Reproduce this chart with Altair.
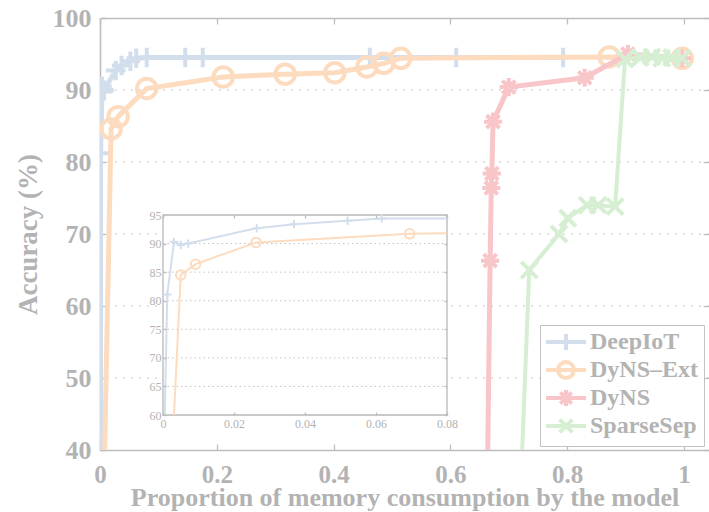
import altair as alt
import pandas as pd

# ---------------- data ----------------
SERIES = ["DeepIoT", "DyNS–Ext", "DyNS", "SparseSep"]
COLORS = ["#d3deed", "#fddbbf", "#f8c5c9", "#d6efd3"]

deepiot_x = [0.0008, 0.0010, 0.0035, 0.005, 0.007, 0.027, 0.037, 0.052, 0.062, 0.080, 0.146, 0.176, 0.462, 0.610, 0.793]
deepiot_y = [40.0, 81.2, 90.5, 89.8, 90.0, 92.7, 93.4, 94.0, 94.4, 94.5, 94.5, 94.5, 94.5, 94.5, 94.5]

dynsext_x = [0.008, 0.019, 0.031, 0.080, 0.211, 0.317, 0.402, 0.457, 0.486, 0.515, 0.872, 0.997]
dynsext_y = [40.0, 84.6, 86.3, 90.2, 91.8, 92.2, 92.4, 93.2, 93.7, 94.4, 94.6, 94.4]

dyns_x = [0.664, 0.668, 0.670, 0.671, 0.673, 0.700, 0.830, 0.904, 0.997]
dyns_y = [40.0, 66.3, 76.4, 78.4, 85.6, 90.4, 91.7, 95.0, 94.4]

sparsesep_x = [0.723, 0.735, 0.786, 0.801, 0.834, 0.853, 0.882, 0.899, 0.925, 0.945, 0.962, 0.979, 0.997]
sparsesep_y = [40.0, 65.0, 70.0, 72.2, 74.0, 74.0, 73.8, 94.3, 94.5, 94.6, 94.4, 94.5, 94.4]

# inset (zoom on 0 .. 0.08)
inset_deepiot_x = [0.0005, 0.0012, 0.0031, 0.0050, 0.0071, 0.0264, 0.0369, 0.0520, 0.0616, 0.0800]
inset_deepiot_y = [60.0, 81.1, 90.3, 89.75, 90.0, 92.7, 93.4, 94.0, 94.4, 94.4]
inset_dynsext_x = [0.0031, 0.0050, 0.0092, 0.0262, 0.0695, 0.0800]
inset_dynsext_y = [60.0, 84.5, 86.4, 90.2, 91.7, 91.8]

main_x_ticks = [0, 0.2, 0.4, 0.6, 0.8, 1]
main_y_ticks = [40, 50, 60, 70, 80, 90, 100]
main_grid = [50, 60, 70, 80, 90]
inset_x_ticks = [0, 0.02, 0.04, 0.06, 0.08]
inset_y_ticks = [60, 65, 70, 75, 80, 85, 90, 95]
inset_grid = [65, 70, 75, 80, 85, 90]

# ---------------- styling ----------------
FONT = "Liberation Serif"
TEXT = "#b3b3b3"
AXIS = "#bdbdbd"
GRID = "#c4c4c4"
W, H = 609, 432
X_MAX = 1.0428
INSET_XR = [63, 347]
INSET_YR = [397, 197]

PLUS = "M-1,0L1,0M0,-1L0,1"
ASTER = "M-1,0L1,0M0,-1L0,1M-0.71,-0.71L0.71,0.71M-0.71,0.71L0.71,-0.71"
XMARK = "M-1,-1L1,1M-1,1L1,-1"
LEG_PATHS = [
    "M-2.5,0L2.5,0M0,-1L0,1",
    "M-2.5,0L-1,0M1,0L2.5,0M-1,0A1,1,0,1,0,1,0A1,1,0,1,0,-1,0M-1,0L1,0",
    "M-2.5,0L2.5,0M0,-1L0,1M-0.71,-0.71L0.71,0.71M-0.71,0.71L0.71,-0.71",
    "M-2.5,0L2.5,0M-0.8,-0.8L0.8,0.8M-0.8,0.8L0.8,-0.8",
]


def sx():
    return alt.Scale(domain=[0, X_MAX], nice=False, zero=False)


def sy():
    return alt.Scale(domain=[40, 100], nice=False, zero=False)


def isx():
    return alt.Scale(domain=[0, 0.08], range=INSET_XR, nice=False, zero=False)


def isy():
    return alt.Scale(domain=[60, 95], range=INSET_YR, nice=False, zero=False)


def frame(xv, yv):
    return pd.DataFrame({"x": xv, "y": yv, "i": list(range(len(xv)))})


layers = []

# main grid
layers.append(
    alt.Chart(pd.DataFrame({"v": main_grid}))
    .mark_rule(color=GRID, strokeWidth=1.2, strokeDash=[2, 6])
    .encode(y=alt.Y("v:Q", scale=sy(), axis=None))
)

main_specs = [
    (deepiot_x, deepiot_y, COLORS[0], PLUS, 380, 5),
    (dynsext_x, dynsext_y, COLORS[1], "circle", 380, 5),
    (dyns_x, dyns_y, COLORS[2], ASTER, 330, 5),
    (sparsesep_x, sparsesep_y, COLORS[3], XMARK, 260, 4),
]
for xv, yv, col, shp, size, lw in main_specs:
    base = alt.Chart(frame(xv, yv)).encode(
        x=alt.X("x:Q", scale=sx(), axis=None),
        y=alt.Y("y:Q", scale=sy(), axis=None),
        order=alt.Order("i:Q"),
    )
    layers.append(base.mark_line(color=col, strokeWidth=lw, clip=True))
    layers.append(
        base.transform_filter("datum.y > 40")
        .mark_point(shape=shp, filled=False, color=col, size=size, strokeWidth=4, opacity=1, clip=True)
    )

# inset background/frame
layers.append(
    alt.Chart(pd.DataFrame({"x0": [0], "x1": [0.08], "y0": [60], "y1": [95]}))
    .mark_rect(fill="white", stroke="#b8b8b8", strokeWidth=1.3)
    .encode(
        x=alt.X("x0:Q", scale=isx(), axis=None), x2="x1:Q",
        y=alt.Y("y0:Q", scale=isy(), axis=None), y2="y1:Q",
    )
)
layers.append(
    alt.Chart(pd.DataFrame({"v": inset_grid, "a": 0.0, "b": 0.08}))
    .mark_rule(color=GRID, strokeWidth=1, strokeDash=[1.5, 3])
    .encode(
        x=alt.X("a:Q", scale=isx(), axis=None), x2="b:Q",
        y=alt.Y("v:Q", scale=isy(), axis=None),
    )
)
inset_specs = [
    (inset_deepiot_x, inset_deepiot_y, COLORS[0], PLUS, 70),
    (inset_dynsext_x, inset_dynsext_y, COLORS[1], "circle", 90),
]
for xv, yv, col, shp, size in inset_specs:
    base = alt.Chart(frame(xv, yv)).encode(
        x=alt.X("x:Q", scale=isx(), axis=None),
        y=alt.Y("y:Q", scale=isy(), axis=None),
        order=alt.Order("i:Q"),
    )
    layers.append(base.mark_line(color=col, strokeWidth=2))
    layers.append(
        base.transform_filter("datum.y > 60 && datum.x < 0.08")
        .mark_point(shape=shp, filled=False, color=col, size=size, strokeWidth=2, opacity=1)
    )


# axis carriers
def axis(orient, offset=0, labels=False, ticks=True, domain=False, title=None, fmt="~g",
         values=None, size=26, bold=True, tick_size=6, padding=8, title_pad=0, title_size=27, z=0):
    kw = dict(
        orient=orient, offset=offset, labels=labels, ticks=ticks, domain=domain,
        grid=False, values=values, format=fmt, labelFlush=False, labelOverlap=False,
        labelFont=FONT, labelFontSize=size, labelFontWeight="bold" if bold else "normal",
        labelColor=TEXT, labelPadding=padding, tickColor=AXIS, tickSize=tick_size,
        tickWidth=1.3, domainColor=AXIS, domainWidth=1.6, zindex=z,
    )
    if title is not None:
        kw.update(title=title, titleFont=FONT, titleFontSize=title_size, titleFontWeight="bold",
                  titleColor=TEXT, titlePadding=title_pad)
    else:
        kw.update(title=None)
    return alt.Axis(**kw)


def carrier(xs, ys, xdom, ydom, xaxis, yaxis):
    return (
        alt.Chart(pd.DataFrame({"x": xdom, "y": ydom}))
        .mark_point(opacity=0)
        .encode(x=alt.X("x:Q", scale=xs, axis=xaxis), y=alt.Y("y:Q", scale=ys, axis=yaxis))
    )


layers.append(carrier(
    sx(), sy(), [0, 1], [40, 100],
    axis("bottom", labels=True, ticks=False, domain=True, values=main_x_ticks,
         title="Proportion of memory consumption by the model", padding=12, title_pad=-3,
         title_size=26, size=25),
    axis("left", labels=True, ticks=False, domain=True, values=main_y_ticks, fmt="d",
         title="Accuracy (%)", padding=9, title_pad=10),
))
layers.append(carrier(
    sx(), sy(), [0, 1], [40, 100],
    axis("top", offset=-H, values=main_x_ticks),
    axis("right", offset=-W, values=main_y_ticks),
))
layers.append(carrier(
    sx(), sy(), [0, 1], [40, 100],
    axis("bottom", offset=-H, domain=True, values=main_x_ticks),
    axis("left", offset=-W, values=main_y_ticks),
))
# inset axes
layers.append(carrier(
    isx(), isy(), [0, 0.08], [60, 95],
    axis("bottom", offset=INSET_YR[0] - H, labels=True, ticks=False, values=inset_x_ticks,
         size=12, bold=False, padding=3, z=1),
    axis("left", offset=-INSET_XR[0], labels=True, ticks=False, values=inset_y_ticks, fmt="d",
         size=12, bold=False, padding=2, z=1),
))
layers.append(carrier(
    isx(), isy(), [0, 0.08], [60, 95],
    axis("top", offset=-INSET_YR[0], values=inset_x_ticks, tick_size=3, z=1),
    axis("right", offset=INSET_XR[0] - W, values=inset_y_ticks, tick_size=3, z=1),
))
layers.append(carrier(
    isx(), isy(), [0, 0.08], [60, 95],
    axis("bottom", offset=INSET_YR[1] - H, values=inset_x_ticks, tick_size=3, z=1),
    axis("left", offset=-INSET_XR[1], values=inset_y_ticks, tick_size=3, z=1),
))

# legend carrier (marks themselves are clipped away)
legend = alt.Legend(
    title=None, orient="none", legendX=440, legendY=307, padding=5,
    strokeColor="#c2c2c2", fillColor="white",
    labelFont=FONT, labelFontWeight="bold", labelFontSize=24, labelColor=TEXT,
    labelLimit=300, symbolSize=256, symbolStrokeWidth=4, symbolOffset=9,
    labelOffset=12, rowPadding=-7, symbolFillColor="transparent",
)
layers.append(
    alt.Chart(pd.DataFrame({"series": SERIES, "x": [0.5] * 4, "y": [-500.0] * 4}))
    .mark_point(filled=False, size=256, strokeWidth=4, opacity=1, clip=True)
    .encode(
        x=alt.X("x:Q", scale=sx(), axis=None),
        y=alt.Y("y:Q", scale=sy(), axis=None),
        color=alt.Color("series:N", scale=alt.Scale(domain=SERIES, range=COLORS), legend=legend),
        shape=alt.Shape("series:N", scale=alt.Scale(domain=SERIES, range=LEG_PATHS), legend=legend),
    )
)

chart = (
    alt.layer(*layers)
    .resolve_scale(x="independent", y="independent")
    .resolve_axis(x="independent", y="independent")
    .properties(
        width=W, height=H,
        padding={"left": 100, "top": 18, "right": 0, "bottom": 62},
        autosize=alt.AutoSizeParams(type="none"),
        background="white",
    )
    .configure_view(stroke=None)
)

chart.save("out.html", embed_options={"renderer": "svg", "actions": False})
